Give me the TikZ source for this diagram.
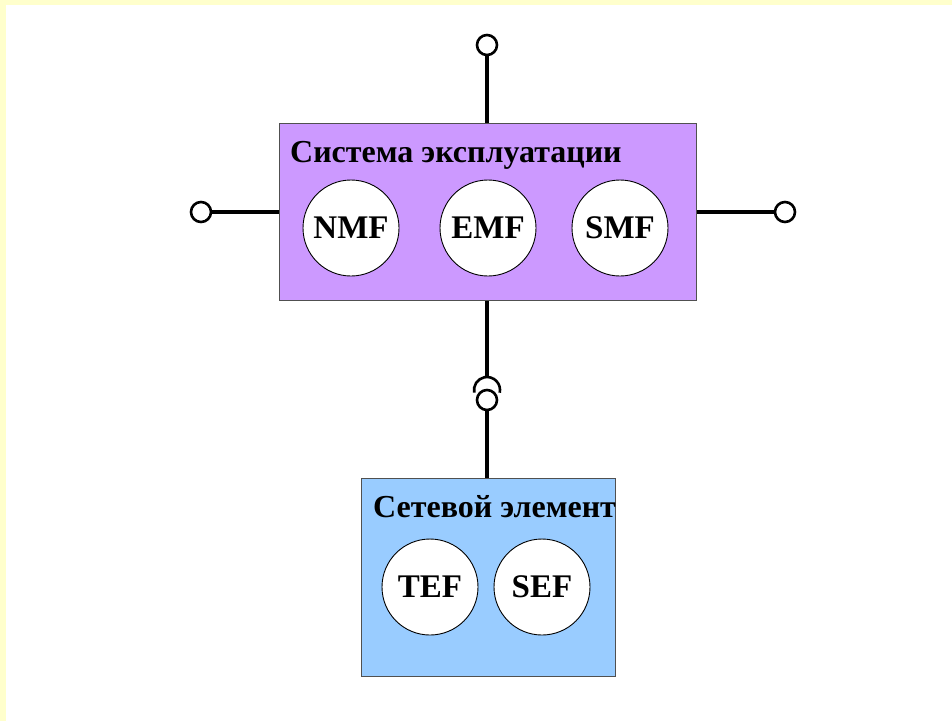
\documentclass[tikz,border=0pt]{standalone}
\usepackage{fontspec}
\setmainfont{Liberation Serif}
\usetikzlibrary{calc}
\definecolor{bgyellow}{RGB}{255,255,204}
\definecolor{boxpurple}{RGB}{204,153,255}
\definecolor{boxblue}{RGB}{153,204,255}
\definecolor{boxline}{RGB}{80,80,80}
\tikzset{
  box/.style={draw=boxline, line width=0.9pt, rectangle, anchor=north west, inner sep=0pt},
  boxtitle/.style={anchor=base west, inner sep=0pt, font=\fontsize{32}{38}\selectfont\bfseries},
  fn/.style={circle, draw=black, line width=0.9pt, fill=white, minimum size=96pt, inner sep=0pt, font=\fontsize{33}{39}\selectfont\bfseries},
  term/.style={circle, draw=black, line width=2.6pt, fill=white, minimum size=20pt, inner sep=0pt},
  conn/.style={line width=3.4pt, draw=black},
  socket/.style={line width=2.6pt, draw=black}
}
\begin{document}
\begin{tikzpicture}[x=1pt,y=-1pt]
\useasboundingbox (0,0) rectangle (952,721);
\fill[bgyellow] (0,0) rectangle (952,721);
\fill[white] (6,5) rectangle (952,721);
% top system box
\node[box, fill=boxpurple, minimum width=417pt, minimum height=177pt] (se) at (279,123) {};
\node[boxtitle] (setitle) at (290,162) {Система эксплуатации};
\node[fn] (nmf) at (351,228) {NMF};
\node[fn] (emf) at (488,228) {EMF};
\node[fn] (smf) at (620,228) {SMF};
% bottom network element box
\node[box, fill=boxblue, minimum width=254pt, minimum height=198pt] (ne) at (361,478) {};
\node[boxtitle] (netitle) at (373,517) {Сетевой элемент};
\node[fn] (tef) at (430,587) {TEF};
\node[fn] (sef) at (542,587) {SEF};
% terminals
\node[term] (ttop) at (487,45) {};
\node[term] (tleft) at (201,212) {};
\node[term] (tright) at (785,212) {};
\node[term] (tbot) at (487,400) {};
\coordinate (arcc) at (487,390);
\coordinate (arctop) at (487,377);
% connectors
\draw[conn] (ttop) -- (ttop |- se.north);
\draw[conn] (tleft) -- (tleft -| se.west);
\draw[conn] (tright) -- (tright -| se.east);
\draw[conn] (arctop |- se.south) -- (arctop);
\draw[socket] ($(arcc)+(192:13pt)$) arc[start angle=192, end angle=-12, radius=13pt];
\draw[conn] (tbot) -- (tbot |- ne.north);
\end{tikzpicture}
\end{document}
